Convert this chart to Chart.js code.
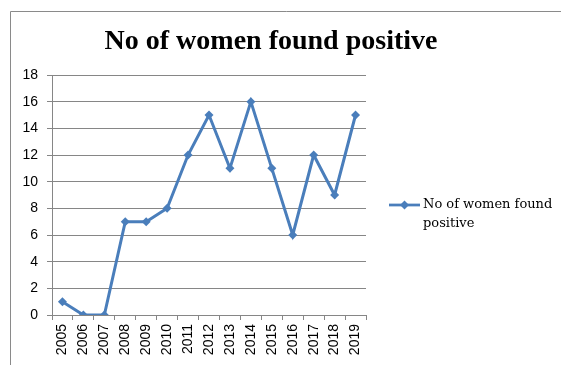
<!DOCTYPE html>
<html>
<head>
<meta charset="utf-8">
<title>No of women found positive</title>
<script src="https://cdn.jsdelivr.net/npm/chart.js@4.4.1/dist/chart.umd.min.js"></script>
<style>
  html, body { margin: 0; padding: 0; background: #fff; }
  #wrap { width: 561px; height: 365px; }
</style>
</head>
<body>
<div id="wrap"><canvas id="chart" width="561" height="365"></canvas></div>
<script>
// Screening results per year
const years = ['2005', '2006', '2007', '2008', '2009', '2010', '2011', '2012',
               '2013', '2014', '2015', '2016', '2017', '2018', '2019'];
const positives = [1, 0, 0, 7, 7, 8, 12, 15, 11, 16, 11, 6, 12, 9, 15];

const chartTitle = 'No of women found positive';
const seriesName = 'No of women found positive';
const legendLines = ['No of women found', 'positive'];

const yMin = 0;
const yMax = 18;
const yStep = 2;

const lineColor = '#4a7ebb';
const axisColor = '#868686';

// Frame, title and the two-line legend are drawn by hand
const decorations = {
    id: 'decorations',
    afterDraw(chart) {
        const ctx = chart.ctx;
        ctx.save();

        // outer chart frame (runs off the right and bottom edges)
        ctx.strokeStyle = '#8a8a8a';
        ctx.lineWidth = 1;
        ctx.beginPath();
        ctx.moveTo(10.5, chart.height + 1);
        ctx.lineTo(10.5, 11.5);
        ctx.lineTo(chart.width + 1, 11.5);
        ctx.stroke();

        // title
        ctx.fillStyle = '#000';
        ctx.font = 'bold 28px "Liberation Serif"';
        ctx.textAlign = 'center';
        ctx.textBaseline = 'alphabetic';
        ctx.fillText(chartTitle, 271, 49);

        // legend
        const lx = 389, ly = 205;
        ctx.strokeStyle = lineColor;
        ctx.lineWidth = 2.75;
        ctx.beginPath();
        ctx.moveTo(lx, ly);
        ctx.lineTo(lx + 31, ly);
        ctx.stroke();
        ctx.fillStyle = lineColor;
        ctx.beginPath();
        ctx.moveTo(lx + 15.5, ly - 4.5);
        ctx.lineTo(lx + 20, ly);
        ctx.lineTo(lx + 15.5, ly + 4.5);
        ctx.lineTo(lx + 11, ly);
        ctx.closePath();
        ctx.fill();

        ctx.fillStyle = '#000';
        ctx.font = '13px "DejaVu Serif"';
        ctx.textAlign = 'left';
        ctx.textBaseline = 'middle';
        legendLines.forEach((line, i) => {
            ctx.fillText(line, 423, ly + i * 19);
        });

        ctx.restore();
    }
};

new Chart(document.getElementById('chart'), {
    type: 'line',
    data: {
        labels: years,
        datasets: [{
            label: seriesName,
            data: positives,
            borderColor: lineColor,
            backgroundColor: lineColor,
            borderWidth: 3,
            pointStyle: 'rectRot',
            pointRadius: 4.5,
            pointHoverRadius: 4.5,
            pointBorderWidth: 0,
            tension: 0,
        }]
    },
    options: {
        responsive: false,
        animation: false,
        devicePixelRatio: 1,
        layout: {
            padding: { left: 10, right: 195, top: 75, bottom: 0 }
        },
        plugins: {
            legend: { display: false },
            title: { display: false },
            tooltip: { enabled: false },
        },
        scales: {
            x: {
                offset: true,
                afterFit(scale) { scale.height = 50; },
                grid: {
                    offset: true,
                    drawOnChartArea: false,
                    drawTicks: true,
                    tickLength: 5,
                    color: axisColor,
                },
                border: { color: axisColor, width: 1 },
                ticks: {
                    minRotation: 90,
                    maxRotation: 90,
                    autoSkip: false,
                    padding: 4,
                    color: '#000',
                    font: { family: 'Liberation Sans', size: 14 },
                },
            },
            y: {
                min: yMin,
                max: yMax,
                afterFit(scale) { scale.width = 42; },
                grid: {
                    color: axisColor,
                    tickLength: 5,
                },
                border: { color: axisColor, width: 1 },
                ticks: {
                    stepSize: yStep,
                    padding: 9,
                    color: '#000',
                    font: { family: 'Liberation Sans', size: 14 },
                },
            },
        },
    },
    plugins: [decorations],
});
</script>
</body>
</html>
